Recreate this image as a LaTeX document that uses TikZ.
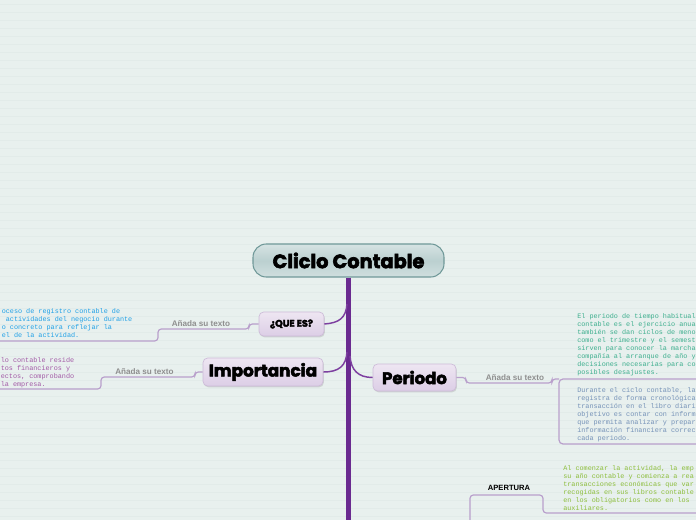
\documentclass[tikz,border=0pt]{standalone}
\usepackage{fontspec}
\usetikzlibrary{shadows}
\newfontfamily\heavyfont{Poppins}[BoldFeatures={FakeBold=3}]
\newfontfamily\monofont{Liberation Mono}
\newfontfamily\labelfont{Liberation Sans}
\definecolor{bgcol}{HTML}{E8F0EE}
\definecolor{gridcol}{HTML}{E2EBE9}
\definecolor{trunkcol}{HTML}{6A2A90}
\definecolor{branchcol}{HTML}{7D3FA0}
\definecolor{subcol}{HTML}{B9A0CC}
\definecolor{labelgray}{HTML}{8F8F8F}
\definecolor{mainborder}{HTML}{6F9898}
\definecolor{maintop}{HTML}{D6E3E3}
\definecolor{mainmid}{HTML}{BBD0D0}
\definecolor{mainbot}{HTML}{D0DFDF}
\definecolor{topicborder}{HTML}{CDBBD8}
\definecolor{topictop}{HTML}{EEE6F2}
\definecolor{topicbot}{HTML}{DCCEE6}
\definecolor{bluetext}{HTML}{1FA0E6}
\definecolor{mauvetext}{HTML}{A25AA6}
\definecolor{tealtext}{HTML}{3FB08F}
\definecolor{slatetext}{HTML}{7592B8}
\definecolor{greentext}{HTML}{8DBE3C}
\tikzset{
  mainnode/.style={draw=mainborder, line width=0.8pt, rounded corners=10pt,
    top color=maintop, bottom color=mainbot, middle color=mainmid,
    minimum width=143.25pt, minimum height=24.75pt, inner sep=0pt,
    font=\heavyfont\bfseries\fontsize{14.5}{16}\selectfont},
  topicnode/.style={draw=topicborder, line width=0.5pt, rounded corners=3.5pt,
    top color=topictop, bottom color=topicbot, inner sep=0pt,
    drop shadow={opacity=0.25, shadow xshift=0.6pt, shadow yshift=-1pt}},
  trunkline/.style={draw=trunkcol, line width=3.75pt},
  branchline/.style={draw=branchcol, line width=1.1pt},
  subline/.style={draw=subcol, line width=0.9pt, rounded corners=2.5pt},
  addlabel/.style={text=labelgray, font=\labelfont\bfseries\fontsize{6.1}{7}\selectfont, inner sep=0pt},
  bodytext/.style={font=\monofont\fontsize{5.1}{6}\selectfont, align=left, inner sep=0pt, anchor=north west},
}
\begin{document}
\begin{tikzpicture}[x=0.75pt,y=-0.75pt]
\useasboundingbox (0,0) rectangle (696,520);
\begin{scope}
\clip (0,0) rectangle (696,520);
\fill[bgcol] (0,0) rectangle (696,520);
\foreach \yy in {4,12,...,520} {\draw[gridcol, line width=0.4pt] (0,\yy) -- (696,\yy);}

% central node
\node[mainnode] (center) at (348.5,260.5) {Cliclo Contable};
\coordinate (trunkend) at (348.5,525);
\draw[trunkline] (center.south) -- (trunkend);

% topic nodes
\node[topicnode, minimum width=48.75pt, minimum height=18pt,
  font=\heavyfont\bfseries\fontsize{7.2}{8}\selectfont] (quees) at (291.5,324) {¿QUE ES?};
\node[topicnode, minimum width=90pt, minimum height=21pt,
  font=\heavyfont\bfseries\fontsize{12.6}{14}\selectfont] (importancia) at (263,372) {Importancia};
\node[topicnode, minimum width=62.25pt, minimum height=20.25pt,
  font=\heavyfont\bfseries\fontsize{12.4}{14}\selectfont] (periodo) at (414.5,377.5) {Periodo};

% branches from trunk
\coordinate (bq) at (347,304);
\coordinate (bi) at (347,352);
\coordinate (bp) at (350,356);
\draw[branchline] (bq) .. controls (346,318) and (339,323) .. (quees.east);
\draw[branchline] (bi) .. controls (346,366) and (339,372) .. (importancia.east);
\draw[branchline] (bp) .. controls (351,370) and (358,377.5) .. (periodo.west);

% secondary connectors
\coordinate (qend) at (-10,341);
\draw[subline] (quees.west) -- (249,324) -- (249,329) -- (158,329) -- (158,341) -- (qend);
\coordinate (iend) at (-10,389);
\draw[subline] (importancia.west) -- (195,372) -- (195,377) -- (101,377) -- (101,389) -- (iend);
\coordinate (pbox) at (559,379);
\draw[subline] (periodo.east) -- (466,377.5) -- (466,383) -- (552,383) -- (552,379) -- (pbox);
\coordinate (boxtr) at (720,379);
\coordinate (boxbr) at (720,444);
\draw[subline, rounded corners=3pt] (boxtr) -- (pbox) -- (559,444) -- (boxbr);
\coordinate (apbot) at (470,525);
\coordinate (apend) at (720,513);
\draw[subline] (apbot) -- (470,495) -- (543,495) -- (543,513) -- (apend);

% labels
\node[addlabel] (lq) at (201,323.5) {Añada su texto};
\node[addlabel] (li) at (144.5,372) {Añada su texto};
\node[addlabel] (lp) at (515,377.5) {Añada su texto};
\node[inner sep=0pt, font=\labelfont\bfseries\fontsize{5.7}{7}\selectfont] (apertura) at (509,488) {APERTURA};

% body texts
\node[bodytext, text=bluetext] (tq) at (1.5,308) {oceso de registro contable de\\
\hphantom{a}actividades del negocio durante\\
o concreto para reflejar la\\
el de la actividad.};
\node[bodytext, text=mauvetext] (ti) at (0.5,357) {lo contable reside\\
tos financieros y\\
ectos, comprobando\\
la empresa.};
\node[bodytext, text=tealtext] (tp1) at (577,313) {El periodo de tiempo habitual\\
contable es el ejercicio anua\\
también se dan ciclos de meno\\
como el trimestre y el semest\\
sirven para conocer la marcha\\
compañía al arranque de año y\\
decisiones necesarias para co\\
posibles desajustes.};
\node[bodytext, text=slatetext] (tp2) at (577,387) {Durante el ciclo contable, la\\
registra de forma cronológica\\
transacción en el libro diari\\
objetivo es contar con inform\\
que permita analizar y prepar\\
información financiera correc\\
cada periodo.};
\node[bodytext, text=greentext] (ta) at (563,465) {Al comenzar la actividad, la emp\\
su año contable y comienza a rea\\
transacciones económicas que var\\
recogidas en sus libros contable\\
en los obligatorios como en los\\
auxiliares.};
\end{scope}
\end{tikzpicture}
\end{document}
